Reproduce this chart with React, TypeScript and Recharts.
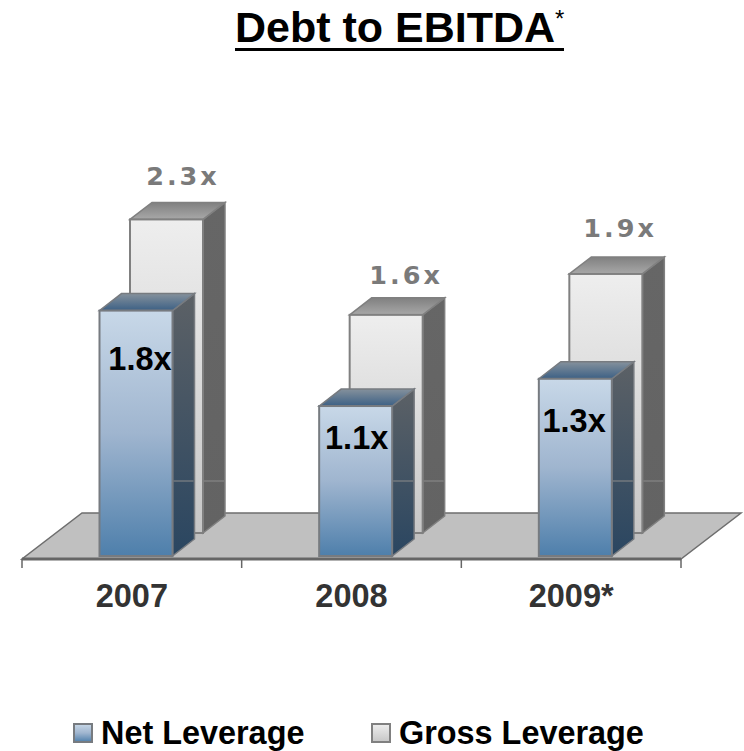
import { BarChart, Bar, XAxis, YAxis, LabelList, Legend } from 'recharts'

const years = ['2007', '2008', '2009*']
const netLeverage = [1.8, 1.1, 1.3]
const grossLeverage = [2.3, 1.6, 1.9]

const chartData = years.map((year, i) => ({
  year,
  net: netLeverage[i],
  gross: grossLeverage[i],
}))

const WIDTH = 744
const HEIGHT = 751
const PLOT_LEFT = 22
const PLOT_RIGHT = 681
const BASELINE = 559
const BAND = (PLOT_RIGHT - PLOT_LEFT) / years.length

// extruded box depth
const DEPTH_X = 22
const DEPTH_Y = 17
// the side seam sits this far above the front series' floor line
const SEAM_ABOVE = 75

// the gross row stands further back on the floor than the net row
const NET_SHIFT = { x: 4.5, y: -3 }
const GROSS_SHIFT = { x: 35, y: -26 }

// hand placed label nudges per year
const NET_LABEL_NUDGE = [
  { x: 8.5, y: 56 },
  { x: 5.5, y: 40 },
  { x: 3.3, y: 50 },
]
const GROSS_LABEL_NUDGE = [
  { x: 51.5, y: -60.5 },
  { x: 55, y: -57 },
  { x: 49.3, y: -63 },
]

const pts = (list: number[][]) => list.map((p) => p.join(',')).join(' ')

function Box3D({ x, y, width, height, shift, face, side, top, edge }: any) {
  const l = x + shift.x
  const r = l + width
  const t = y + shift.y
  const b = t + height
  const seamY = BASELINE - 3 - SEAM_ABOVE
  return (
    <g>
      <polygon
        points={pts([[r, t], [r + DEPTH_X, t - DEPTH_Y], [r + DEPTH_X, b - DEPTH_Y], [r, b]])}
        fill={`url(#${side})`}
        stroke={edge}
        strokeWidth={1.5}
      />
      <line x1={r + 1} x2={r + DEPTH_X - 1} y1={seamY} y2={seamY} stroke="#8c8c8c" strokeWidth={1} />
      <polygon
        points={pts([[l, t], [l + DEPTH_X, t - DEPTH_Y], [r + DEPTH_X, t - DEPTH_Y], [r, t]])}
        fill={`url(#${top})`}
        stroke={edge}
        strokeWidth={1.5}
      />
      <rect x={l} y={t} width={width} height={height} fill={`url(#${face})`} stroke={edge} strokeWidth={2} />
    </g>
  )
}

function NetShape(props: any) {
  return <Box3D {...props} shift={NET_SHIFT} face="netFace" side="netSide" top="netTop" edge="#777b80" />
}

function GrossShape(props: any) {
  return <Box3D {...props} shift={GROSS_SHIFT} face="grossFace" side="grossSide" top="grossTop" edge="#808080" />
}

function NetLabel({ x, y, width, value, index }: any) {
  const n = NET_LABEL_NUDGE[index]
  return (
    <text
      x={x + width / 2 + n.x}
      y={y + n.y}
      textAnchor="middle"
      fontFamily="Liberation Sans"
      fontWeight="bold"
      fontSize={32.5}
      fill="#000"
    >
      {value.toFixed(1)}x
    </text>
  )
}

function GrossLabel({ x, y, width, value, index }: any) {
  const n = GROSS_LABEL_NUDGE[index]
  return (
    <text
      x={x + width / 2 + n.x}
      y={y + n.y}
      textAnchor="middle"
      fontFamily="DejaVu Sans"
      fontWeight="bold"
      fontSize={25.5}
      letterSpacing={3}
      fill="#7a7a7a"
    >
      {value.toFixed(1)}x
    </text>
  )
}

// year label plus the band boundary ticks of the category axis
function YearTick({ x, payload, index }: any) {
  const left = x - BAND / 2
  return (
    <g>
      <line x1={left} x2={left} y1={BASELINE} y2={BASELINE + 9} stroke="#666" strokeWidth={1.5} />
      {index === years.length - 1 && (
        <line x1={left + BAND} x2={left + BAND} y1={BASELINE} y2={BASELINE + 9} stroke="#666" strokeWidth={1.5} />
      )}
      <text
        x={x}
        y={BASELINE + 48}
        textAnchor="middle"
        fontFamily="Liberation Sans"
        fontWeight="bold"
        fontSize={32.5}
        fill="#333"
      >
        {payload.value}
      </text>
    </g>
  )
}

function Swatch({ fill, stroke }: { fill: string; stroke: string }) {
  return (
    <svg width={20} height={20} style={{ display: 'block' }}>
      <rect x={1} y={1} width={18} height={18} fill={`url(#${fill})`} stroke={stroke} strokeWidth={2} />
    </svg>
  )
}

function LegendRow() {
  const item = { display: 'flex', alignItems: 'center', gap: 8, position: 'absolute', top: 0, lineHeight: '36px' } as const
  return (
    <div style={{ position: 'relative', height: 36, fontFamily: 'Liberation Sans', fontWeight: 'bold', fontSize: 32.4, color: '#000' }}>
      <div style={{ ...item, left: 73 }}>
        <Swatch fill="netFace" stroke="#777b80" />
        <span>Net Leverage</span>
      </div>
      <div style={{ ...item, left: 371 }}>
        <Swatch fill="grossFace" stroke="#808080" />
        <span>Gross Leverage</span>
      </div>
    </div>
  )
}

export default function App() {
  return (
    <div style={{ position: 'absolute', left: 0, top: 0, width: WIDTH, height: HEIGHT, background: '#fff' }}>
      <div
        style={{
          position: 'absolute',
          left: 235,
          top: 7,
          fontFamily: 'Liberation Sans',
          fontWeight: 'bold',
          fontSize: 43,
          lineHeight: '41px',
          color: '#000',
          whiteSpace: 'nowrap',
          borderBottom: '3px solid #000',
        }}
      >
        Debt to EBITDA<span style={{ fontSize: 24, fontWeight: 'normal', verticalAlign: 'top', lineHeight: '24px' }}>*</span>
      </div>
      <BarChart
        width={WIDTH}
        height={HEIGHT}
        data={chartData}
        barSize={73}
        barGap={-73}
        margin={{ top: 150, right: WIDTH - PLOT_RIGHT, bottom: 96, left: PLOT_LEFT }}
      >
        <defs>
          <linearGradient id="netFace" x1="0" y1="0" x2="0" y2="1">
            <stop offset="0" stopColor="#c8d8e8" />
            <stop offset="0.5" stopColor="#9fb5cf" />
            <stop offset="1" stopColor="#4e7fab" />
          </linearGradient>
          <linearGradient id="netSide" x1="0" y1="0" x2="0" y2="1">
            <stop offset="0" stopColor="#5c6166" />
            <stop offset="1" stopColor="#2a4661" />
          </linearGradient>
          <linearGradient id="netTop" x1="0" y1="0" x2="0" y2="1">
            <stop offset="0" stopColor="#85919c" />
            <stop offset="1" stopColor="#3c6085" />
          </linearGradient>
          <linearGradient id="grossFace" x1="0" y1="0" x2="0" y2="1">
            <stop offset="0" stopColor="#eeeeee" />
            <stop offset="1" stopColor="#c6c6c6" />
          </linearGradient>
          <linearGradient id="grossSide" x1="0" y1="0" x2="0" y2="1">
            <stop offset="0" stopColor="#666666" />
            <stop offset="1" stopColor="#636363" />
          </linearGradient>
          <linearGradient id="grossTop" x1="0" y1="0" x2="0" y2="1">
            <stop offset="0" stopColor="#808080" />
            <stop offset="1" stopColor="#a8a8a8" />
          </linearGradient>
        </defs>
        <polygon
          points={pts([[PLOT_LEFT, BASELINE], [PLOT_RIGHT, BASELINE], [741, 513], [82, 513]])}
          fill="#c0c0c0"
          stroke="#6e6e6e"
          strokeWidth={1.5}
        />
        <XAxis
          dataKey="year"
          axisLine={{ stroke: '#666', strokeWidth: 3 }}
          tickLine={false}
          tick={<YearTick />}
          height={60}
          interval={0}
        />
        <YAxis hide domain={[0, 3]} />
        <Legend content={<LegendRow />} verticalAlign="bottom" wrapperStyle={{ left: 0, bottom: 'auto', top: 715, width: WIDTH }} />
        <Bar dataKey="gross" name="Gross Leverage" shape={<GrossShape />} isAnimationActive={false}>
          <LabelList dataKey="gross" content={<GrossLabel />} />
        </Bar>
        <Bar dataKey="net" name="Net Leverage" shape={<NetShape />} isAnimationActive={false}>
          <LabelList dataKey="net" content={<NetLabel />} />
        </Bar>
      </BarChart>
    </div>
  )
}
